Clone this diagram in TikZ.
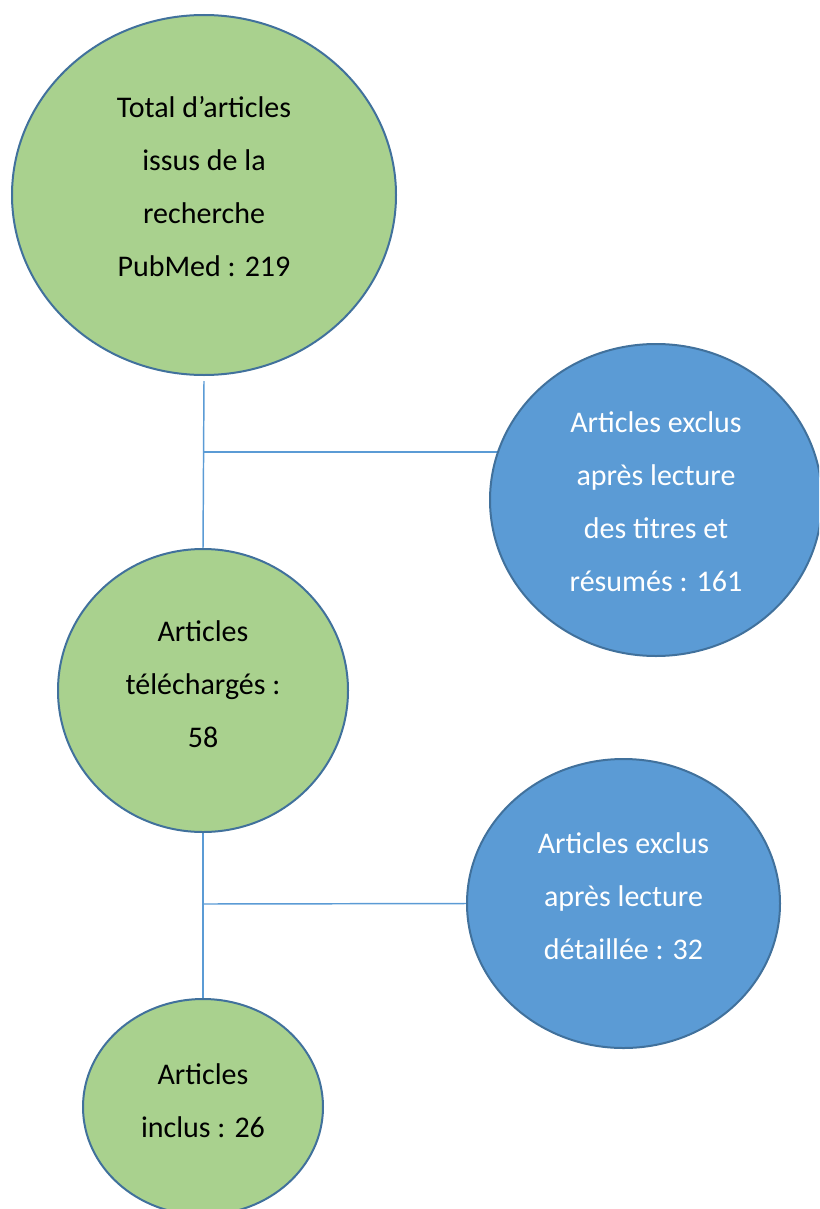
\documentclass[tikz,border=0pt]{standalone}
\usepackage{fontspec}
\setmainfont{Carlito}
\usetikzlibrary{shapes.geometric,backgrounds}
\definecolor{gfill}{HTML}{A9D18E}
\definecolor{bfill}{HTML}{5B9BD5}
\definecolor{edge}{HTML}{41719C}
\definecolor{conncol}{HTML}{5B9BD5}
\tikzset{
  bubble/.style={ellipse, draw=edge, line width=1.5pt, inner sep=0pt, outer sep=0pt},
  greenbubble/.style={bubble, fill=gfill},
  bluebubble/.style={bubble, fill=bfill},
  bubbletext/.style={align=center, inner sep=0pt, font=\fontsize{22.5}{39.75}\selectfont},
  darktext/.style={bubbletext, text=black},
  lighttext/.style={bubbletext, text=white},
  conn/.style={draw=conncol, line width=1.1pt}
}
\begin{document}
\begin{tikzpicture}[x=0.75pt, y=-0.75pt]
\useasboundingbox (0,0) rectangle (819,1209);
\clip (0,0) rectangle (819,1209);
\node[greenbubble, minimum width=288pt, minimum height=270pt] (n1) at (204,195) {};
\node[bluebubble, minimum width=249pt, minimum height=234pt] (b1) at (656,500) {};
\node[greenbubble, minimum width=217.5pt, minimum height=212.25pt] (n2) at (203,690.5) {};
\node[bluebubble, minimum width=234.75pt, minimum height=216.75pt] (b2) at (623.5,903.5) {};
\node[greenbubble, minimum width=180pt, minimum height=162pt] (n3) at (203,1107) {};
\node[darktext] (t1) at ([yshift=6pt]n1.center)
  {Total d’articles\\issus de la\\recherche\\PubMed : 219};
\node[lighttext] (t2) at ([yshift=-1.5pt]b1.center)
  {Articles exclus\\après lecture\\des titres et\\résumés : 161};
\node[darktext] (t3) at ([yshift=4.5pt]n2.center)
  {Articles\\téléchargés :\\58};
\node[lighttext] (t4) at ([yshift=5.25pt]b2.center)
  {Articles exclus\\après lecture\\détaillée : 32};
\node[darktext] (t5) at ([yshift=4.5pt]n3.center)
  {Articles\\inclus : 26};
\coordinate (c1) at (204,381);
\coordinate (j1) at (204,452);
\coordinate (j2) at (203,904);
\begin{scope}[on background layer]
\draw[conn] (c1) -- (n2.north);
\draw[conn] (j1) -- (j1 -| b1.center);
\draw[conn] (n2.south) -- (n3.north);
\draw[conn] (j2) -- (b2.west);
\end{scope}
\end{tikzpicture}
\end{document}
